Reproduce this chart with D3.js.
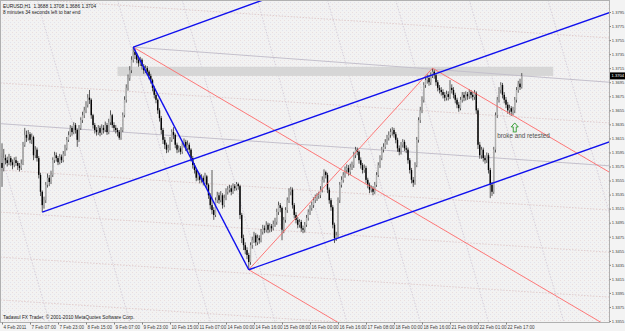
<!DOCTYPE html>
<html><head><meta charset="utf-8">
<script src="https://cdn.jsdelivr.net/npm/d3@7/dist/d3.min.js"></script>
<style>body{margin:0;background:#fff;} svg{display:block;font-family:"Liberation Sans", Arial, sans-serif;}</style>
</head><body><svg id="c" width="625" height="331"></svg>
<script>
const symbolTitle = "EURUSD,H1  1.3688 1.3708 1.3686 1.3704";
const timerText = "8 minutes 34 seconds left to bar end";
const copyright = "Tadawul FX Trader, \u00a9 2001-2010 MetaQuotes Software Corp.";
const noteText = "broke and retested";
const firstOpen = 1.3580;
const closes = [
1.3573,1.3587,1.3584,1.3580,1.3587,1.3581,1.3577,1.3584,1.3580,1.3576,1.3573,1.3579,
1.3606,1.3620,1.3616,1.3621,1.3613,1.3617,1.3591,1.3599,1.3587,1.3563,1.3539,1.3520,
1.3527,1.3549,1.3559,1.3553,1.3563,1.3584,1.3591,1.3587,1.3581,1.3589,1.3584,1.3593,
1.3601,1.3613,1.3620,1.3630,1.3624,1.3634,1.3627,1.3613,1.3630,1.3641,1.3648,1.3655,
1.3663,1.3673,1.3670,1.3648,1.3634,1.3627,1.3624,1.3630,1.3623,1.3630,1.3627,1.3634,
1.3624,1.3638,1.3648,1.3634,1.3630,1.3627,1.3624,1.3616,1.3627,1.3648,1.3670,1.3687,
1.3701,1.3712,1.3727,1.3738,1.3734,1.3727,1.3722,1.3727,1.3718,1.3712,1.3715,1.3710,
1.3704,1.3698,1.3687,1.3677,1.3670,1.3655,1.3644,1.3627,1.3613,1.3606,1.3599,1.3601,
1.3613,1.3624,1.3620,1.3606,1.3599,1.3601,1.3596,1.3606,1.3610,1.3601,1.3606,1.3599,
1.3587,1.3577,1.3570,1.3559,1.3563,1.3556,1.3559,1.3553,1.3561,1.3549,1.3534,1.3520,
1.3513,1.3506,1.3527,1.3534,1.3527,1.3534,1.3520,1.3530,1.3539,1.3542,1.3544,1.3539,
1.3547,1.3544,1.3550,1.3547,1.3506,1.3473,1.3463,1.3456,1.3449,1.3439,1.3463,1.3470,
1.3477,1.3467,1.3473,1.3470,1.3482,1.3487,1.3485,1.3492,1.3485,1.3490,1.3487,1.3493,
1.3496,1.3510,1.3520,1.3516,1.3485,1.3499,1.3513,1.3527,1.3539,1.3542,1.3520,1.3506,
1.3499,1.3492,1.3496,1.3487,1.3485,1.3492,1.3502,1.3510,1.3516,1.3520,1.3527,1.3530,
1.3533,1.3534,1.3542,1.3556,1.3567,1.3563,1.3542,1.3527,1.3517,1.3492,1.3473,1.3477,
1.3527,1.3549,1.3556,1.3563,1.3570,1.3573,1.3567,1.3574,1.3577,1.3591,1.3599,1.3596,
1.3584,1.3577,1.3570,1.3573,1.3556,1.3549,1.3542,1.3544,1.3539,1.3549,1.3563,1.3577,
1.3587,1.3599,1.3603,1.3610,1.3616,1.3620,1.3624,1.3627,1.3621,1.3613,1.3601,1.3596,
1.3606,1.3610,1.3601,1.3599,1.3584,1.3570,1.3556,1.3552,1.3577,1.3613,1.3641,1.3655,
1.3670,1.3691,1.3698,1.3701,1.3695,1.3705,1.3710,1.3705,1.3695,1.3687,1.3684,1.3681,
1.3677,1.3673,1.3678,1.3674,1.3687,1.3684,1.3677,1.3670,1.3663,1.3658,1.3670,1.3677,
1.3673,1.3678,1.3675,1.3681,1.3677,1.3674,1.3680,1.3655,1.3606,1.3591,1.3599,1.3587,
1.3584,1.3591,1.3570,1.3549,1.3539,1.3599,1.3648,1.3670,1.3684,1.3691,1.3677,1.3670,
1.3663,1.3655,1.3658,1.3653,1.3655,1.3670,1.3684,1.3693,1.3688,1.3704];
const highs = [
1.3608,1.3600,1.3592,1.3589,1.3593,1.3590,1.3585,1.3588,1.3589,1.3583,1.3580,1.3585,
1.3610,1.3630,1.3626,1.3627,1.3624,1.3622,1.3619,1.3604,1.3602,1.3590,1.3566,1.3541,
1.3532,1.3553,1.3565,1.3563,1.3569,1.3588,1.3596,1.3595,1.3590,1.3593,1.3592,1.3597,
1.3606,1.3617,1.3625,1.3634,1.3633,1.3638,1.3637,1.3629,1.3634,1.3645,1.3653,1.3660,
1.3668,1.3678,1.3684,1.3672,1.3650,1.3637,1.3631,1.3634,1.3633,1.3635,1.3634,1.3639,
1.3637,1.3643,1.3655,1.3650,1.3638,1.3634,1.3630,1.3627,1.3631,1.3652,1.3675,1.3692,
1.3706,1.3718,1.3732,1.3745,1.3742,1.3737,1.3730,1.3731,1.3729,1.3721,1.3719,1.3718,
1.3712,1.3707,1.3700,1.3690,1.3680,1.3672,1.3658,1.3647,1.3630,1.3617,1.3609,1.3606,
1.3617,1.3628,1.3631,1.3622,1.3609,1.3605,1.3604,1.3610,1.3615,1.3613,1.3612,1.3609,
1.3601,1.3590,1.3580,1.3573,1.3568,1.3566,1.3564,1.3562,1.3566,1.3563,1.3551,1.3537,
1.3570,1.3517,1.3531,1.3539,1.3538,1.3540,1.3537,1.3535,1.3544,1.3547,1.3549,1.3548,
1.3551,1.3550,1.3553,1.3552,1.3549,1.3509,1.3478,1.3467,1.3460,1.3452,1.3467,1.3475,
1.3482,1.3480,1.3478,1.3477,1.3486,1.3492,1.3491,1.3497,1.3495,1.3494,1.3493,1.3498,
1.3502,1.3515,1.3525,1.3523,1.3518,1.3503,1.3517,1.3531,1.3544,1.3546,1.3545,1.3523,
1.3510,1.3503,1.3500,1.3499,1.3491,1.3496,1.3506,1.3514,1.3520,1.3525,1.3531,1.3535,
1.3537,1.3539,1.3547,1.3561,1.3571,1.3569,1.3566,1.3545,1.3530,1.3520,1.3495,1.3482,
1.3531,1.3553,1.3561,1.3567,1.3575,1.3578,1.3577,1.3579,1.3582,1.3596,1.3603,1.3602,
1.3598,1.3588,1.3580,1.3578,1.3576,1.3559,1.3552,1.3548,1.3547,1.3553,1.3567,1.3581,
1.3591,1.3603,1.3608,1.3614,1.3620,1.3625,1.3629,1.3631,1.3630,1.3624,1.3616,1.3605,
1.3610,1.3614,1.3613,1.3605,1.3602,1.3587,1.3573,1.3560,1.3581,1.3617,1.3645,1.3660,
1.3675,1.3695,1.3703,1.3706,1.3705,1.3709,1.3715,1.3713,1.3708,1.3698,1.3691,1.3688,
1.3685,1.3681,1.3683,1.3682,1.3698,1.3692,1.3688,1.3680,1.3673,1.3667,1.3674,1.3681,
1.3681,1.3682,1.3681,1.3685,1.3684,1.3681,1.3684,1.3682,1.3658,1.3610,1.3603,1.3602,
1.3591,1.3595,1.3594,1.3573,1.3553,1.3603,1.3652,1.3674,1.3688,1.3695,1.3694,1.3681,
1.3674,1.3667,1.3663,1.3661,1.3660,1.3674,1.3688,1.3697,1.3700,1.3708];
const lows = [
1.3546,1.3568,1.3578,1.3575,1.3577,1.3576,1.3571,1.3574,1.3576,1.3570,1.3568,1.3570,
1.3577,1.3603,1.3610,1.3612,1.3608,1.3607,1.3584,1.3587,1.3582,1.3558,1.3533,1.3510,
1.3515,1.3523,1.3545,1.3547,1.3550,1.3560,1.3580,1.3582,1.3577,1.3578,1.3580,1.3581,
1.3590,1.3598,1.3610,1.3617,1.3619,1.3621,1.3622,1.3603,1.3610,1.3627,1.3637,1.3644,
1.3651,1.3659,1.3664,1.3643,1.3629,1.3622,1.3619,1.3620,1.3618,1.3620,1.3622,1.3624,
1.3620,1.3621,1.3634,1.3630,1.3625,1.3622,1.3618,1.3613,1.3613,1.3624,1.3645,1.3666,
1.3683,1.3697,1.3708,1.3723,1.3728,1.3722,1.3717,1.3718,1.3713,1.3707,1.3708,1.3705,
1.3699,1.3693,1.3682,1.3672,1.3665,1.3650,1.3639,1.3621,1.3607,1.3600,1.3594,1.3595,
1.3598,1.3610,1.3614,1.3601,1.3594,1.3595,1.3592,1.3593,1.3602,1.3597,1.3598,1.3594,
1.3582,1.3572,1.3565,1.3554,1.3555,1.3551,1.3552,1.3548,1.3550,1.3544,1.3529,1.3514,
1.3507,1.3499,1.3503,1.3523,1.3522,1.3524,1.3515,1.3517,1.3527,1.3535,1.3538,1.3534,
1.3536,1.3540,1.3541,1.3542,1.3500,1.3466,1.3456,1.3450,1.3443,1.3428,1.3435,1.3458,
1.3466,1.3462,1.3463,1.3465,1.3467,1.3478,1.3480,1.3481,1.3480,1.3481,1.3482,1.3484,
1.3489,1.3492,1.3506,1.3510,1.3470,1.3480,1.3495,1.3509,1.3523,1.3534,1.3515,1.3501,
1.3494,1.3487,1.3488,1.3482,1.3480,1.3481,1.3489,1.3498,1.3506,1.3512,1.3516,1.3523,
1.3526,1.3529,1.3530,1.3538,1.3552,1.3558,1.3537,1.3522,1.3512,1.3487,1.3466,1.3469,
1.3474,1.3523,1.3545,1.3552,1.3559,1.3565,1.3562,1.3563,1.3570,1.3573,1.3587,1.3591,
1.3579,1.3572,1.3565,1.3566,1.3551,1.3544,1.3537,1.3538,1.3534,1.3536,1.3546,1.3560,
1.3573,1.3584,1.3595,1.3600,1.3606,1.3612,1.3616,1.3619,1.3616,1.3608,1.3596,1.3591,
1.3592,1.3602,1.3597,1.3594,1.3579,1.3565,1.3551,1.3546,1.3549,1.3574,1.3609,1.3637,
1.3651,1.3666,1.3687,1.3693,1.3690,1.3691,1.3701,1.3700,1.3690,1.3682,1.3679,1.3676,
1.3672,1.3668,1.3669,1.3669,1.3671,1.3679,1.3672,1.3665,1.3658,1.3653,1.3655,1.3666,
1.3668,1.3669,1.3670,1.3671,1.3672,1.3669,1.3670,1.3650,1.3600,1.3586,1.3586,1.3582,
1.3579,1.3580,1.3565,1.3530,1.3533,1.3536,1.3595,1.3644,1.3666,1.3679,1.3672,1.3665,
1.3658,1.3650,1.3649,1.3647,1.3648,1.3651,1.3666,1.3680,1.3684,1.3686];

const timeLabels = ["4 Feb 2011","7 Feb 07:00","7 Feb 23:00","8 Feb 15:00","9 Feb 07:00","9 Feb 23:00",
  "10 Feb 15:00","11 Feb 07:00","14 Feb 00:00","14 Feb 16:00","15 Feb 08:00","16 Feb 00:00",
  "16 Feb 16:00","17 Feb 08:00","18 Feb 00:00","18 Feb 16:00","21 Feb 09:00","22 Feb 01:00","22 Feb 17:00"];
const timeLabelBars = [0,16,32,48,64,80,96,112,128,144,160,176,192,208,224,240,256,272,288];
const priceTicks = [1.3795,1.3775,1.3755,1.3735,1.3715,1.3695,1.3675,1.3655,1.3635,1.3615,1.3595,1.3575,
  1.3555,1.3535,1.3515,1.3495,1.3475,1.3455,1.3435,1.3415,1.3395,1.3375,1.3355];
const lastPrice = 1.3704;

// trend lines: [bar1, price1, bar2, price2]
const blueLines = [[23,1.3510,347,1.3794],[141,1.3428,347,1.3610],[75,1.3745,149,1.3812],[75,1.3745,141,1.3428]];
const redLines = [[75,1.3745,343,1.3352],[141,1.3428,194,1.3350],[141,1.3428,246,1.3715],[246,1.3715,347,1.3567]];
const grayLines = [[75,1.3745,347,1.3695],[-1,1.3636,347,1.3576]];
const faintFlatLines = [[-1,1.3816,347,1.3758],[-1,1.3694,347,1.3637],[-1,1.3570,347,1.3513],
  [-1,1.3510,347,1.3453],[-1,1.3446,347,1.3389],[-1,1.3385,347,1.3328]];
const faintSteepLines = [[-26,1.3812,27,1.3354],[20,1.3812,73,1.3354],[66,1.3812,119,1.3354],[103,1.3812,156,1.3354],
  [146,1.3812,197,1.3354],[186,1.3812,239,1.3354],[225,1.3812,278,1.3354],[267,1.3812,321,1.3354],[312,1.3812,365,1.3354]];
const zoneBars = [66,315];
const zonePrices = [1.3704,1.3717];
const noteBar = 283, notePrice = 1.3615, arrowBar = 293, arrowPrice = 1.3637;

const svg = d3.select("#c");
const W = 625, H = 331, plotR = 609, plotB = 322;
const x = d3.scaleLinear().domain([0,347]).range([2,609.25]);
const y = d3.scaleLinear().domain([1.3355,1.3795]).range([321,12]);

svg.append("rect").attr("width",W).attr("height",H).attr("fill","#f3f3f3");
const defs = svg.append("defs");
const pat = defs.append("pattern").attr("id","dots").attr("width",4).attr("height",4).attr("patternUnits","userSpaceOnUse");
pat.append("rect").attr("width",4).attr("height",4).attr("fill","#f2f2f2");
pat.append("rect").attr("x",0).attr("y",0).attr("width",1).attr("height",1).attr("fill","#eadede");
pat.append("rect").attr("x",2).attr("y",2).attr("width",1).attr("height",1).attr("fill","#e2e2ec");
defs.append("clipPath").attr("id","clip").append("rect").attr("x",0).attr("y",0).attr("width",plotR).attr("height",plotB);
svg.append("rect").attr("x",0).attr("y",0).attr("width",plotR).attr("height",plotB).attr("fill","url(#dots)");

const g = svg.append("g").attr("clip-path","url(#clip)");
const seg = d => ({x1:x(d[0]),y1:y(d[1]),x2:x(d[2]),y2:y(d[3])});
function drawLines(arr, color, width, dash){
  g.selectAll(null).data(arr).join("line")
   .each(function(d){ const s=seg(d); d3.select(this).attr("x1",s.x1).attr("y1",s.y1).attr("x2",s.x2).attr("y2",s.y2); })
   .attr("stroke",color).attr("stroke-width",width).attr("stroke-dasharray",dash||null);
}
drawLines(faintFlatLines,"#dcc4c4",0.8,"1.5,1.5");
drawLines(faintSteepLines,"#cfc8d6",0.8,"1.5,1.5");

// resistance zone
g.append("rect").attr("x",x(zoneBars[0])).attr("width",x(zoneBars[1])-x(zoneBars[0]))
 .attr("y",y(zonePrices[1])).attr("height",y(zonePrices[0])-y(zonePrices[1])).attr("fill","#d6d6d6");

drawLines(grayLines,"#c4c0cc",1);

// candles
const opens = [firstOpen].concat(closes.slice(0,-1));
const bars = closes.map((c,i)=>({i,o:opens[i],h:highs[i],l:lows[i],c}));
g.selectAll(".wick").data(bars).join("line").attr("class","wick")
 .attr("x1",d=>x(d.i)).attr("x2",d=>x(d.i)).attr("y1",d=>y(d.h)).attr("y2",d=>y(d.l))
 .attr("stroke","#4a4a4a").attr("stroke-width",0.9);
g.selectAll(".body").data(bars).join("rect").attr("class","body")
 .attr("x",d=>x(d.i)-0.7).attr("width",1.4)
 .attr("y",d=>y(Math.max(d.o,d.c)))
 .attr("height",d=>Math.max(0.6,Math.abs(y(d.o)-y(d.c))))
 .attr("fill",d=>d.c>=d.o?"#b0b0b0":"#000");

drawLines(redLines,"#ff6a6a",0.9);
drawLines(blueLines,"#1010ee",1.4);

// annotation
const ax = x(arrowBar), ay = y(arrowPrice);
g.append("path").attr("d",`M${ax},${ay} l-3.5,4 h2 v5 h3 v-5 h2 z`)
 .attr("fill","none").attr("stroke","#2a9a2a").attr("stroke-width",0.9);
g.append("text").attr("x",x(noteBar)).attr("y",y(notePrice)).text(noteText)
 .attr("font-size",6.3).attr("fill","#505050");

// frame/axes
svg.append("line").attr("x1",plotR+0.5).attr("x2",plotR+0.5).attr("y1",0).attr("y2",plotB).attr("stroke","#808080");
svg.append("line").attr("x1",0).attr("x2",plotR+0.5).attr("y1",plotB+0.5).attr("y2",plotB+0.5).attr("stroke","#808080");
svg.append("rect").attr("x",0.5).attr("y",0.5).attr("width",plotR).attr("height",plotB).attr("fill","none").attr("stroke","#b0b0b0").attr("stroke-width",1);

const yAxis = d3.axisRight(y).tickValues(priceTicks).tickFormat(d3.format(".4f")).tickSize(1.5).tickPadding(0.8);
const ya = svg.append("g").attr("transform",`translate(${plotR+0.5},0)`).call(yAxis);
ya.select(".domain").remove();
ya.selectAll("line").attr("stroke","#808080");
ya.selectAll("text").attr("font-size",4.1).attr("fill","#404040");

const xAxis = d3.axisBottom(x).tickValues(timeLabelBars).tickFormat((d,i)=>timeLabels[i]).tickSize(2).tickPadding(1.5);
const xa = svg.append("g").attr("transform",`translate(0,${plotB+0.5})`).call(xAxis);
xa.select(".domain").remove();
xa.selectAll("line").attr("stroke","#808080");
xa.selectAll("text").attr("font-size",4.6).attr("fill","#404040").attr("text-anchor","start").attr("dx",1);

// last price box
svg.append("rect").attr("x",plotR+1).attr("y",y(lastPrice)-3.5).attr("width",15).attr("height",7).attr("fill","#000");
svg.append("text").attr("x",plotR+2.5).attr("y",y(lastPrice)+1.5).text(d3.format(".4f")(lastPrice))
 .attr("font-size",4.1).attr("fill","#fff");

// header texts
svg.append("text").attr("x",3).attr("y",7.5).text(symbolTitle).attr("font-size",4.8).attr("fill","#202020").style("white-space","pre");
svg.append("text").attr("x",3).attr("y",14).text(timerText).attr("font-size",4.8).attr("fill","#202020");
svg.append("text").attr("x",3).attr("y",318.5).text(copyright).attr("font-size",4.8).attr("fill","#202020");
</script></body></html>
